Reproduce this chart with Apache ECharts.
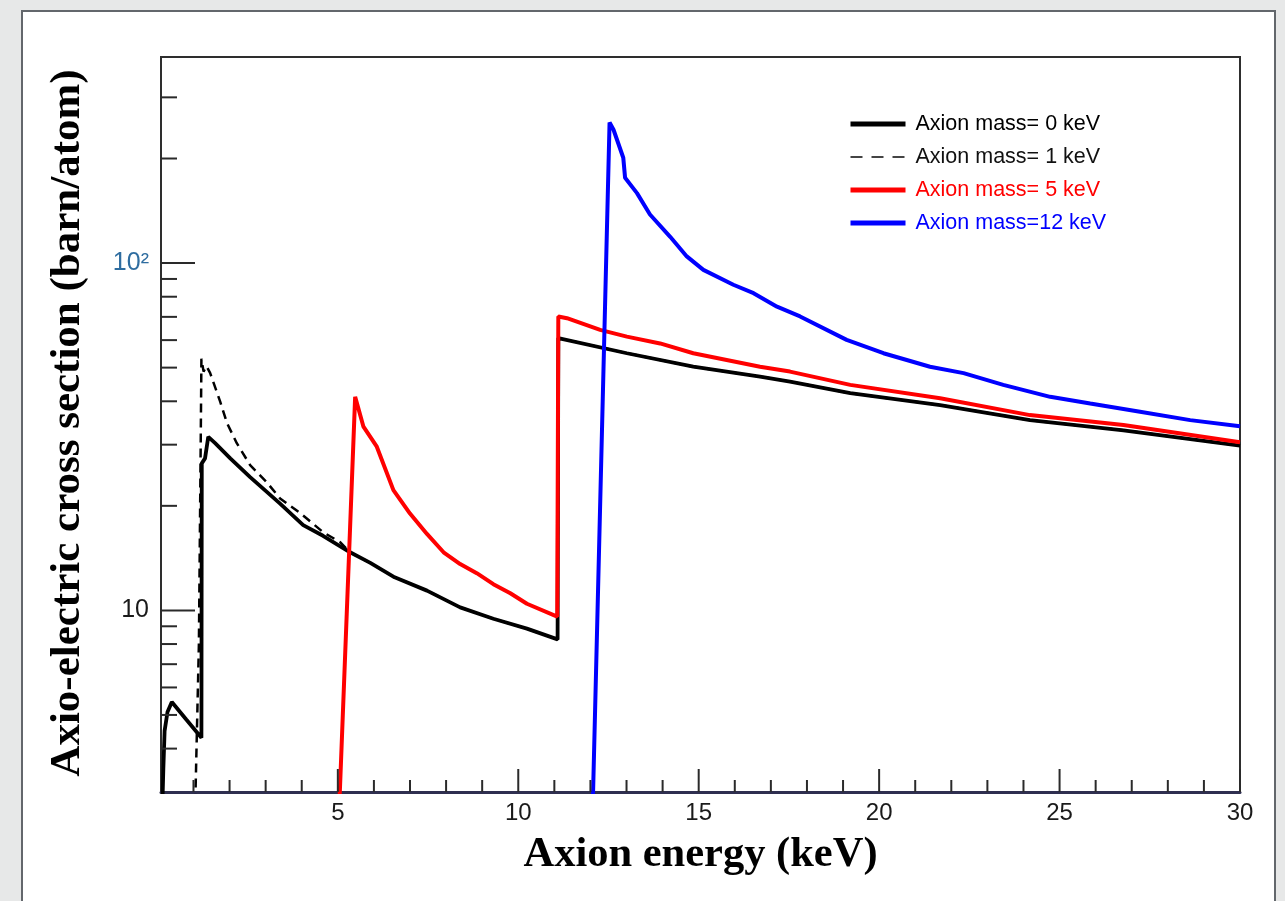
<!DOCTYPE html>
<html>
<head>
<meta charset="utf-8">
<title>Axio-electric cross section</title>
<script src="https://cdn.jsdelivr.net/npm/echarts@6/dist/echarts.min.js"></script>
<style>
  html, body { margin: 0; padding: 0; width: 1285px; height: 901px; overflow: hidden; background: #e7e8e8; }
  #panel { position: absolute; left: 21px; top: 10px; width: 1251px; height: 1000px; background: #fff; border: 2px solid #63676c; }
  #chart { position: absolute; left: 0; top: 0; width: 1285px; height: 901px; }
</style>
</head>
<body>
<div id="panel"></div>
<div id="chart"></div>
<script>
// axis ranges
const xMin = 0.1, xMax = 30;
const yMin = 3, yMax = 392;

// tick positions (keV / barn per atom)
const xLabelValues = [5, 10, 15, 20, 25, 30];
const xMinorTicks = [1, 2, 3, 4, 6, 7, 8, 9, 11, 12, 13, 14, 16, 17, 18, 19, 21, 22, 23, 24, 26, 27, 28, 29];
const yMajorTicks = [10, 100];
const yMinorTicks = [4, 5, 6, 7, 8, 9, 20, 30, 40, 50, 60, 70, 80, 90, 200, 300];

// Axion mass = 0 keV
const mass0Energy = [0.14, 0.165, 0.2, 0.28, 0.4, 0.8, 1.22, 1.23, 1.32, 1.41, 1.6, 2.02, 2.57, 3.4, 4.04, 4.59, 5.34, 5.9, 6.54, 7.47, 8.39, 9.31, 10.24, 11.09, 11.11, 13.01, 14.85, 16.7, 17.53, 19.2, 21.69, 24.18, 26.77, 30];
const mass0Sigma = [2.8, 3.5, 4.5, 5.1, 5.45, 4.85, 4.3, 26.5, 27.4, 31.6, 30.3, 27.4, 24.2, 20.3, 17.6, 16.4, 14.7, 13.7, 12.5, 11.4, 10.2, 9.46, 8.86, 8.25, 60.8, 55.0, 50.3, 47.1, 45.6, 42.2, 39.0, 35.3, 33.0, 29.8];

// Axion mass = 1 keV
const mass1Energy = [1.05, 1.15, 1.2, 1.22, 1.28, 1.36, 1.46, 1.74, 1.93, 2.2, 2.57, 3.03, 3.4, 3.96, 4.59, 5.07, 5.34, 5.9, 6.54, 7.47, 8.39, 9.31, 10.24, 11.09, 11.11, 13.01, 14.85, 16.7, 17.53, 19.2, 21.69, 24.18, 26.77, 30];
const mass1Sigma = [2.8, 8.0, 30, 53, 48.7, 50.5, 48.3, 39.9, 34.6, 30.3, 26.2, 23.4, 21.0, 19.05, 16.8, 15.7, 14.7, 13.7, 12.5, 11.4, 10.2, 9.46, 8.86, 8.25, 60.8, 55.0, 50.3, 47.1, 45.6, 42.2, 39.0, 35.3, 33.0, 29.8];

// Axion mass = 5 keV
const mass5Energy = [5.05, 5.48, 5.71, 6.08, 6.54, 7.0, 7.47, 7.93, 8.39, 8.85, 9.31, 9.78, 10.24, 11.08, 11.11, 11.35, 12.27, 13.01, 13.93, 14.85, 16.7, 17.53, 19.2, 21.69, 24.18, 26.77, 30];
const mass5Sigma = [2.9, 41.2, 33.8, 29.6, 22.2, 19.0, 16.6, 14.7, 13.6, 12.8, 11.9, 11.2, 10.45, 9.6, 70.2, 69.4, 64.2, 61.4, 58.7, 55.0, 50.3, 48.7, 44.6, 40.8, 36.5, 34.2, 30.5];

// Axion mass = 12 keV
const mass12Energy = [12.07, 12.53, 12.64, 12.91, 12.96, 13.29, 13.65, 14.21, 14.67, 15.13, 15.96, 16.52, 17.17, 17.81, 19.1, 20.12, 21.41, 22.34, 23.44, 24.74, 25.85, 27.23, 28.62, 30];
const mass12Sigma = [2.9, 254, 242, 201, 176, 159, 138, 119, 104.5, 95.6, 86.6, 81.9, 74.9, 70.2, 60.1, 55.0, 50.3, 48.2, 44.6, 41.2, 39.4, 37.3, 35.3, 33.9];

const zip = (xs, ys) => xs.map((x, i) => [x, ys[i]]);

const sansFont = '"Liberation Sans", Arial, Helvetica, sans-serif';
const serifFont = '"Liberation Serif", "Times New Roman", "DejaVu Serif", serif';

// tick marks drawn through the axes' own scales
function tickSeries(values, axis, len) {
  return {
    type: 'custom',
    silent: true,
    clip: false,
    z: 5,
    data: values.map((v) => (axis === 'x' ? [v, yMin] : [xMin, v])),
    renderItem: (params, api) => {
      const p = api.coord([api.value(0), api.value(1)]);
      const shape = axis === 'x'
        ? { x1: p[0], y1: p[1], x2: p[0], y2: p[1] - len }
        : { x1: p[0], y1: p[1], x2: p[0] + len, y2: p[1] };
      return { type: 'line', shape, style: { stroke: '#2a2a2a', lineWidth: 2 } };
    },
  };
}

function curve(name, xs, ys, color, width, type) {
  return {
    name,
    type: 'line',
    data: zip(xs, ys),
    symbol: 'none',
    showSymbol: false,
    clip: true,
    lineStyle: { color, width, type: type || 'solid' },
    itemStyle: { color },
  };
}

// legend shows only the line, no marker
const noMarker = { color: 'rgba(0,0,0,0)', borderColor: 'rgba(0,0,0,0)', borderWidth: 0, opacity: 0 };

const chart = echarts.init(document.getElementById('chart'), null, { renderer: 'canvas' });

chart.setOption({
  backgroundColor: 'transparent',
  animation: false,
  grid: {
    left: 161, right: 45, top: 57, bottom: 109,
    show: true, borderColor: '#2e2e2e', borderWidth: 2, backgroundColor: 'transparent',
  },
  legend: {
    orient: 'vertical',
    left: 843,
    top: 108,
    itemWidth: 55,
    itemHeight: 20,
    itemGap: 11,
    textStyle: { fontSize: 21.5, fontFamily: sansFont, padding: [0, 0, 0, 5] },
    data: [
      { name: 'Axion mass= 0 keV', textStyle: { color: '#000' }, lineStyle: { width: 5 }, itemStyle: noMarker },
      { name: 'Axion mass= 1 keV', textStyle: { color: '#111' }, lineStyle: { width: 2, type: [12, 9], color: '#444' }, itemStyle: noMarker },
      { name: 'Axion mass= 5 keV', textStyle: { color: '#ff0000' }, lineStyle: { width: 5 }, itemStyle: noMarker },
      { name: 'Axion mass=12 keV', textStyle: { color: '#0000ff' }, lineStyle: { width: 5 }, itemStyle: noMarker },
    ],
  },
  xAxis: {
    type: 'value',
    min: xMin,
    max: xMax,
    name: 'Axion energy (keV)',
    nameLocation: 'middle',
    nameGap: 42,
    nameTextStyle: { fontFamily: serifFont, fontWeight: 'bold', fontSize: 42.5, color: '#000' },
    axisLine: { show: true, lineStyle: { color: '#2f2f50', width: 3 } },
    axisTick: { show: false },
    splitLine: { show: false },
    axisLabel: {
      customValues: xLabelValues,
      fontFamily: sansFont,
      fontSize: 24,
      color: '#1a1a1a',
      margin: 9,
    },
  },
  yAxis: {
    type: 'log',
    logBase: 10,
    min: yMin,
    max: yMax,
    name: 'Axio-electric cross section (barn/atom)',
    nameLocation: 'middle',
    nameRotate: 90,
    nameGap: 72,
    nameTextStyle: { fontFamily: serifFont, fontWeight: 'bold', fontSize: 43, color: '#000', padding: [0, 0, 0, 3] },
    axisLine: { show: false },
    axisTick: { show: false },
    splitLine: { show: false },
    axisLabel: {
      margin: 12,
      fontFamily: sansFont,
      fontSize: 25,
      formatter: (v) => {
        const e = Math.log10(v);
        if (Math.abs(e - Math.round(e)) > 1e-6) return '';
        const n = Math.round(e);
        return n === 1 ? '{a|10}' : '{b|10' + '\u00b2' + '}';
      },
      rich: {
        a: { fontFamily: sansFont, fontSize: 25, color: '#1a1a1a' },
        b: { fontFamily: sansFont, fontSize: 25, color: '#2f6da0' },
      },
    },
  },
  series: [
    curve('Axion mass= 0 keV', mass0Energy, mass0Sigma, '#000000', 3.8),
    curve('Axion mass= 1 keV', mass1Energy, mass1Sigma, '#000000', 2.5, [9, 6]),
    curve('Axion mass= 5 keV', mass5Energy, mass5Sigma, '#ff0000', 4),
    curve('Axion mass=12 keV', mass12Energy, mass12Sigma, '#0000ff', 4),
    tickSeries(xLabelValues, 'x', 23),
    tickSeries(xMinorTicks, 'x', 12),
    tickSeries(yMajorTicks, 'y', 34),
    tickSeries(yMinorTicks, 'y', 16),
  ],
});
</script>
</body>
</html>
